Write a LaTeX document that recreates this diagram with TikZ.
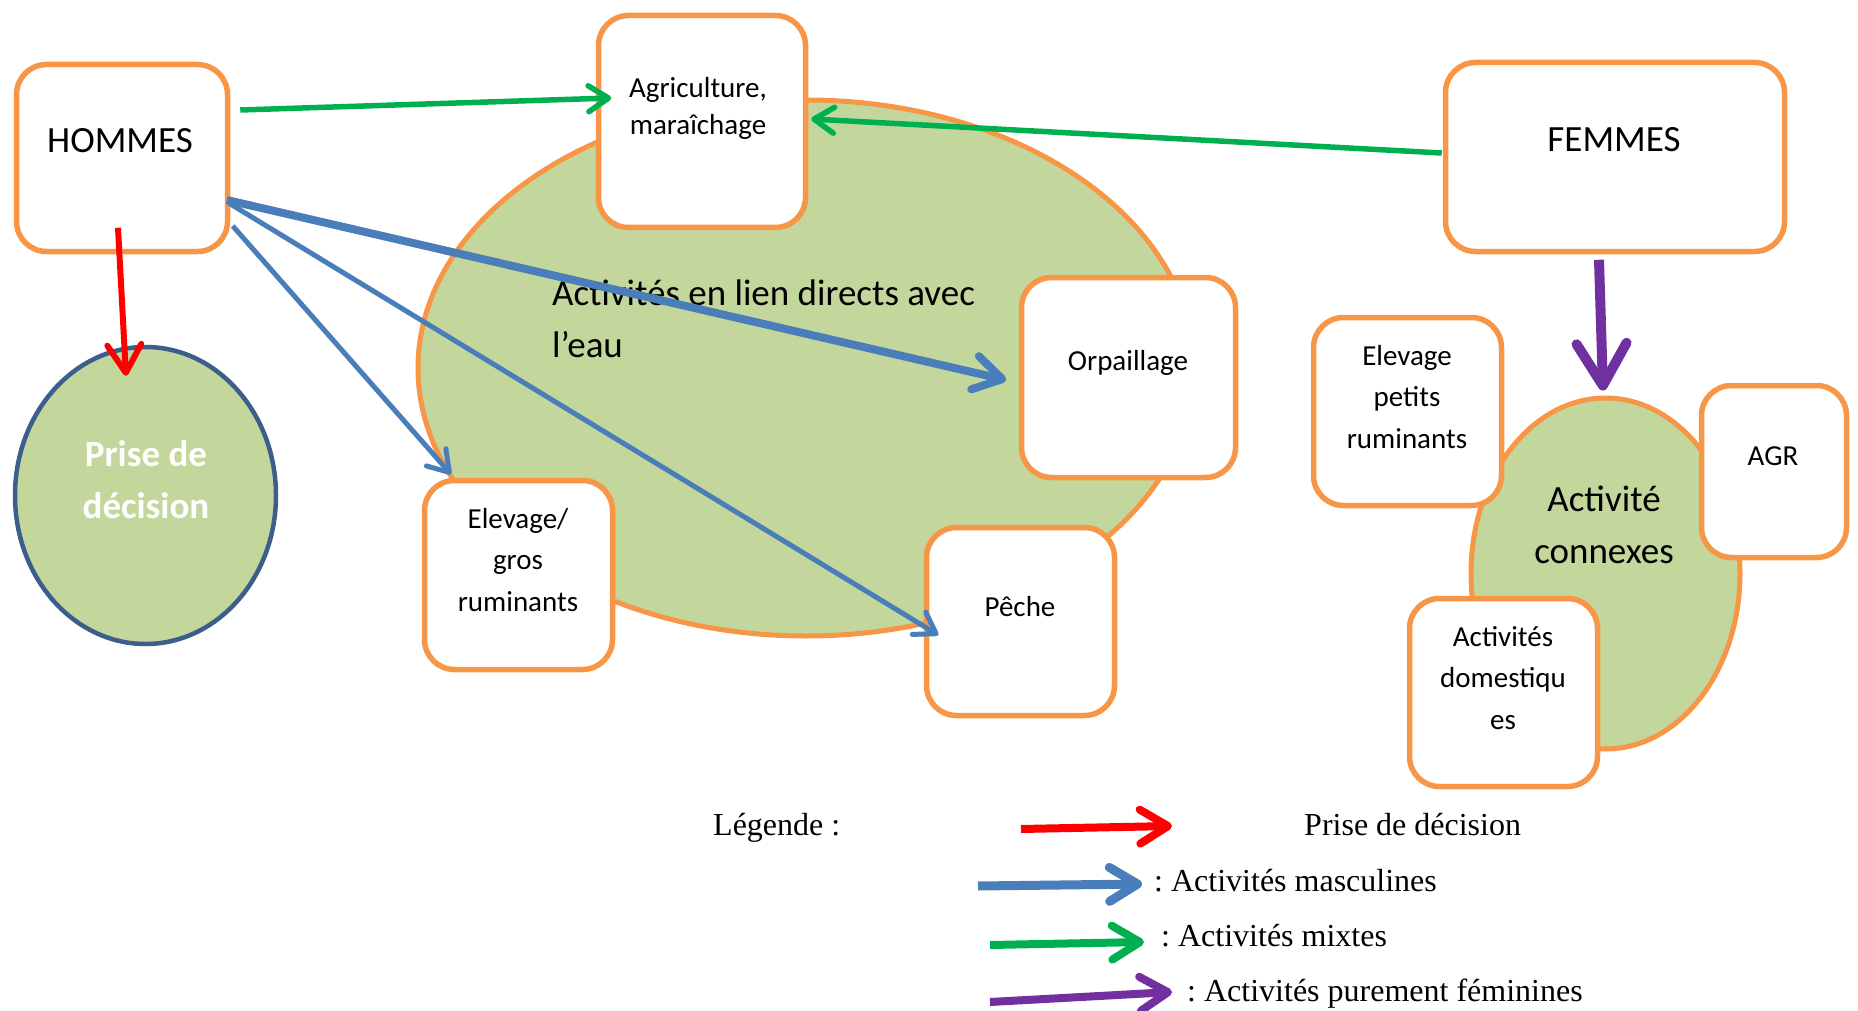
\documentclass[tikz,border=0pt]{standalone}
\usepackage{fontspec}
\setmainfont{Carlito}
\newfontfamily\legfont{Liberation Serif}
\usetikzlibrary{arrows.meta,shapes.geometric,calc}
\definecolor{borange}{HTML}{F79646}
\definecolor{bgreen}{HTML}{C3D69B}
\definecolor{ablue}{HTML}{4A7EBB}
\definecolor{agreen}{HTML}{00B050}
\definecolor{ared}{HTML}{FF0000}
\definecolor{apurple}{HTML}{7030A0}
\definecolor{dblue}{HTML}{3B5E8C}
\frenchspacing
\begin{document}
\begin{tikzpicture}[x=1pt,y=-1pt,
  box/.style={draw=borange, line width=5.5pt, rounded corners=30pt, fill=white, inner sep=0pt},
  oval/.style={ellipse, draw=borange, line width=5pt, fill=bgreen, inner sep=0pt},
  bigtxt/.style={font=\fontsize{37}{52}\selectfont, align=center, inner sep=0pt},
  smtxt/.style={font=\fontsize{29}{41.5}\selectfont, align=center, inner sep=0pt},
  legtxt/.style={font=\legfont\fontsize{32}{38}\selectfont, inner sep=0pt, anchor=base west},
  tipS/.style={-{Straight Barb[length=20pt,width=26pt,round]}},
  tipM/.style={-{Straight Barb[length=28pt,width=34pt,round]}},
  tipL/.style={-{Straight Barb[length=42pt,width=50pt,round]}},
]
\useasboundingbox (0,0) rectangle (1858,1011);

% big ellipse
\node[oval, minimum width=776pt, minimum height=536pt] (eau) at (806,368) {};
\node[bigtxt, align=left, anchor=west] (teau) at (552,319) {Activités en lien directs avec\\l’eau};

% boxes of the central group
\node[box, minimum width=211pt, minimum height=187pt] (hom) at (122,158) {};
\node[box, minimum width=207pt, minimum height=212pt] (agr) at (702,121.5) {};
\node[box, minimum width=214pt, minimum height=200pt] (orp) at (1128.5,377.5) {};
\node[box, minimum width=188pt, minimum height=189pt] (elg) at (518.5,575) {};
\node[box, minimum width=188pt, minimum height=188pt] (pec) at (1020.5,621.5) {};

\node[bigtxt] (thom) at (120,141) {HOMMES};
\node[smtxt, font=\fontsize{29}{37}\selectfont] (tagr) at (698,108) {Agriculture,\\maraîchage};
\node[smtxt] (torp) at (1128,363) {Orpaillage};
\node[smtxt] (telg) at (518,560) {Elevage/\\gros\\ruminants};
\node[smtxt] (tpec) at (1020,607) {Pêche};

% prise de decision
\node[ellipse, draw=dblue, line width=4.5pt, fill=bgreen, inner sep=0pt,
      minimum width=261pt, minimum height=297pt] (pri) at (145.5,495.5) {};
\node[bigtxt, font=\fontsize{37}{52}\selectfont\bfseries, text=white] (tpri) at (146,480) {Prise de\\décision};

% right group
\node[box, minimum width=339pt, minimum height=189pt] (fem) at (1615,157) {};
\node[bigtxt] (tfem) at (1614,140) {FEMMES};
\node[oval, minimum width=269pt, minimum height=351pt] (con) at (1605.5,573.5) {};
\node[box, minimum width=188pt, minimum height=188pt] (elp) at (1407.5,411.5) {};
\node[box, minimum width=145pt, minimum height=172pt] (agrr) at (1774,471.5) {};
\node[box, minimum width=188pt, minimum height=188pt] (dom) at (1503.5,692.5) {};
\node[bigtxt] (tcon) at (1604,524.5) {Activité\\connexes};
\node[smtxt] (telp) at (1407,397) {Elevage\\petits\\ruminants};
\node[smtxt] (tagrr) at (1773,456) {AGR};
\node[smtxt] (tdom) at (1503,678) {Activités\\domestiqu\\es};

% connectors
\draw[agreen, line width=5.5pt, tipS] ([shift={(10,-48)}]hom.east) -- ([shift={(15.5,-23.5)}]agr.west);
\draw[agreen, line width=5.5pt, tipS] ([shift={(-1,-4)}]fem.west) -- ([shift={(3,-2.5)}]agr.east);
\draw[ared, line width=6pt, tipM] ([shift={(-4,-26.5)}]hom.south) -- ([shift={(-19.5,31)}]pri.north);
\draw[ablue, line width=8pt, tipM] ([shift={(-3.5,42)}]hom.east) -- ([shift={(-12.5,2.5)}]orp.west);
\draw[ablue, line width=5pt, tipS] ([shift={(2.5,68)}]hom.east) -- ([shift={(-67.5,-3.5)}]elg.north);
\draw[ablue, line width=5pt, tipS] ([shift={(-1.5,45)}]hom.east) -- ([shift={(14.5,13.5)}]pec.west);
\draw[apurple, line width=10pt, tipL] ([shift={(-16,5.5)}]fem.south) -- ([shift={(-2.5,-5)}]con.north);

% legend
\node[legtxt] (lleg) at (713,835) {Légende :};
\node[legtxt] (lpri) at (1304,835) {Prise de décision};
\node[legtxt] (lmas) at (1154,891) {: Activités masculines};
\node[legtxt] (lmix) at (1161,946) {: Activités mixtes};
\node[legtxt] (lfem) at (1187,1001) {: Activités purement féminines};

\coordinate (r1) at (1021,829); \coordinate (r2) at (1172,826);
\coordinate (b1) at (978,886);  \coordinate (b2) at (1142,884);
\coordinate (g1) at (990,945);  \coordinate (g2) at (1144,942);
\coordinate (p1) at (990,1002); \coordinate (p2) at (1172,992);
\draw[ared, line width=8pt, tipM] (r1) -- (r2);
\draw[ablue, line width=9pt, tipM] (b1) -- (b2);
\draw[agreen, line width=8pt, tipM] (g1) -- (g2);
\draw[apurple, line width=8pt, tipM] (p1) -- (p2);
\end{tikzpicture}
\end{document}
